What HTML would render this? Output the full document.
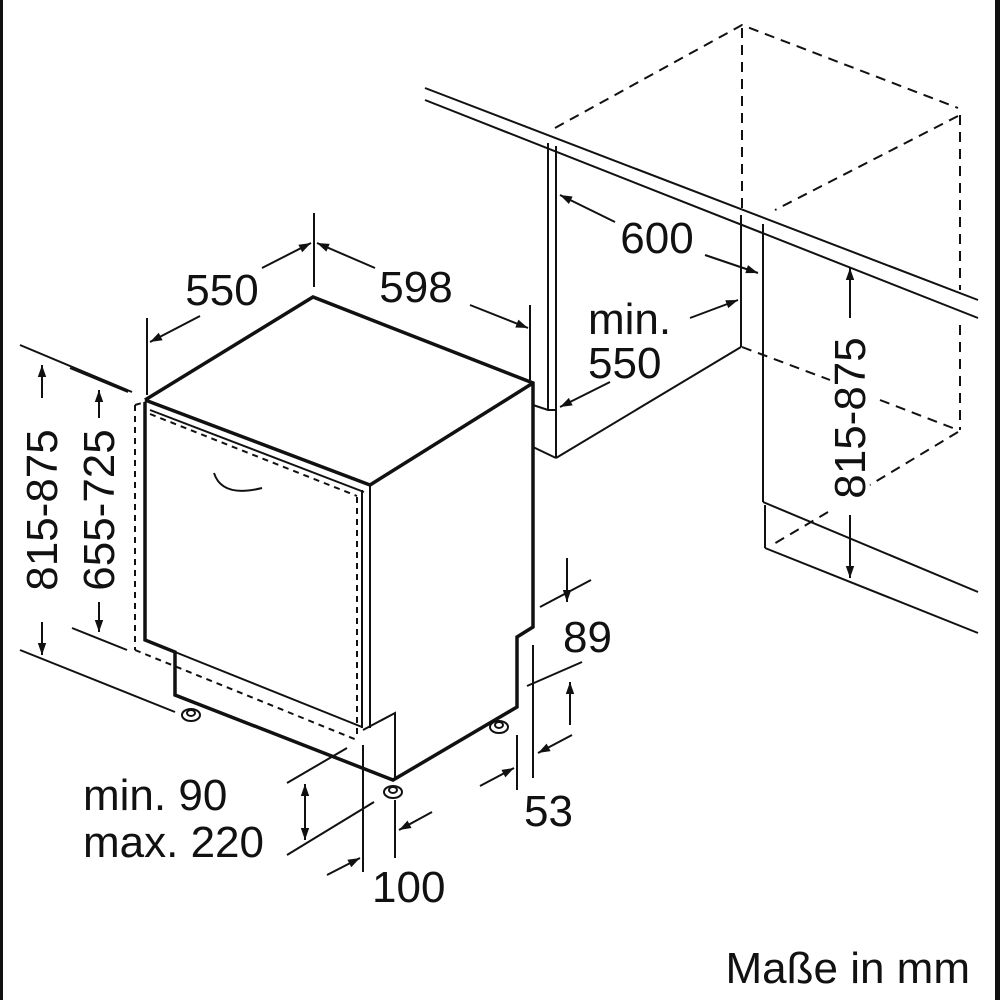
<!DOCTYPE html>
<html><head><meta charset="utf-8"><style>
html,body{margin:0;padding:0;background:#fff}
svg{display:block}
text{font-family:"Liberation Sans",sans-serif;font-size:44px;fill:#111}
</style></head><body>
<svg width="1000" height="1000" viewBox="0 0 1000 1000" xmlns="http://www.w3.org/2000/svg">
<defs>
<marker id="b" viewBox="0 0 10 10" refX="10" refY="5" markerWidth="18" markerHeight="12" markerUnits="userSpaceOnUse" orient="auto-start-reverse"><path d="M0,1.5 L10,5 L0,8.5 Z" fill="#111"/></marker>
</defs>
<rect x="0" y="0" width="3" height="1000" fill="#111"/>
<rect x="995" y="0" width="5" height="1000" fill="#111"/>
<g fill="none" stroke="#111" stroke-width="2">
<line x1="425" y1="88" x2="978" y2="300"/>
<line x1="425" y1="100" x2="978" y2="318"/>
<line x1="548" y1="143" x2="548" y2="410"/>
<line x1="556" y1="146" x2="556" y2="458"/>
<polyline points="533,405 548,410 556,410"/>
<line x1="533" y1="447" x2="556" y2="458"/>
<line x1="556" y1="458" x2="741" y2="347"/>
<line x1="741" y1="215" x2="741" y2="347"/>
<line x1="763" y1="224" x2="763" y2="502"/>
<line x1="763" y1="502" x2="978" y2="592"/>
<line x1="765" y1="505" x2="765" y2="548"/>
<line x1="765" y1="548" x2="978" y2="633"/>
</g>
<g fill="none" stroke="#111" stroke-width="2" stroke-dasharray="10,7">
<polyline points="555,128 742,25 958,108"/>
<line x1="742" y1="28" x2="742" y2="212"/>
<line x1="960" y1="115" x2="960" y2="290"/>
<line x1="960" y1="325" x2="960" y2="430"/>
<line x1="958" y1="116" x2="775" y2="210"/>
<line x1="742" y1="347" x2="830" y2="380"/>
<line x1="880" y1="400" x2="958" y2="430"/>
<line x1="958" y1="432" x2="870" y2="485"/>
<line x1="828" y1="512" x2="772" y2="545"/>
</g>
<g fill="none" stroke="#111" stroke-width="3.5" stroke-linejoin="miter">
<polyline points="145,402 145,640 175,652 175,695 393,780 517,707 517,637 533,627 533,383 313,297 145,400"/>
<line x1="145" y1="400" x2="370" y2="485"/>
<line x1="370" y1="485" x2="533" y2="383"/>
</g>
<g fill="none" stroke="#111" stroke-width="2">
<line x1="150" y1="410" x2="364" y2="492"/>
<line x1="175" y1="652" x2="362" y2="727"/>
<line x1="362" y1="490" x2="362" y2="728"/>
<line x1="370" y1="485" x2="370" y2="728"/>
<polyline points="363,730 395,713 395,780"/>
<path d="M214,473 Q222,498 262,488"/>
</g>
<g fill="none" stroke="#111" stroke-width="2" stroke-dasharray="6,5">
<line x1="135" y1="405" x2="135" y2="650"/>
<line x1="135" y1="650" x2="357" y2="740"/>
<line x1="357" y1="497" x2="357" y2="738"/>
<line x1="150" y1="414" x2="357" y2="496"/>
<line x1="135" y1="405" x2="145" y2="402"/>
</g>
<g fill="#fff" stroke="#111" stroke-width="2">
<ellipse cx="191" cy="715" rx="9" ry="6"/><ellipse cx="191" cy="713" rx="4" ry="3"/>
<ellipse cx="393" cy="792" rx="9" ry="6"/><ellipse cx="393" cy="790" rx="4" ry="3"/>
<ellipse cx="499" cy="727" rx="9" ry="6"/><ellipse cx="499" cy="725" rx="4" ry="3"/>
</g>
<g fill="none" stroke="#111" stroke-width="2">
<line x1="147" y1="318" x2="147" y2="395"/>
<line x1="314" y1="213" x2="314" y2="287"/>
<line x1="530" y1="305" x2="530" y2="380"/>
<line x1="150" y1="342" x2="200" y2="316" marker-start="url(#b)"/>
<line x1="262" y1="268" x2="311" y2="243" marker-end="url(#b)"/>
<line x1="317" y1="243" x2="375" y2="268" marker-start="url(#b)"/>
<line x1="470" y1="305" x2="528" y2="328" marker-end="url(#b)"/>
<line x1="20" y1="345" x2="132" y2="392"/>
<line x1="20" y1="650" x2="175" y2="712"/>
<line x1="42" y1="398" x2="42" y2="365" marker-end="url(#b)"/>
<line x1="42" y1="622" x2="42" y2="655" marker-end="url(#b)"/>
<line x1="70" y1="368" x2="128" y2="392"/>
<line x1="72" y1="628" x2="127" y2="650"/>
<line x1="99" y1="418" x2="99" y2="390" marker-end="url(#b)"/>
<line x1="99" y1="602" x2="99" y2="632" marker-end="url(#b)"/>
<line x1="615" y1="222" x2="560" y2="195" marker-end="url(#b)"/>
<line x1="705" y1="255" x2="758" y2="273" marker-end="url(#b)"/>
<line x1="690" y1="318" x2="738" y2="300" marker-end="url(#b)"/>
<line x1="610" y1="382" x2="560" y2="407" marker-end="url(#b)"/>
<line x1="850" y1="318" x2="850" y2="268" marker-end="url(#b)"/>
<line x1="850" y1="515" x2="850" y2="578" marker-end="url(#b)"/>
<line x1="567" y1="558" x2="567" y2="602" marker-end="url(#b)"/>
<line x1="540" y1="607" x2="591" y2="580"/>
<line x1="527" y1="686" x2="582" y2="662"/>
<line x1="570" y1="725" x2="570" y2="682" marker-end="url(#b)"/>
<line x1="517" y1="735" x2="517" y2="790"/>
<line x1="533" y1="645" x2="533" y2="778"/>
<line x1="480" y1="786" x2="514" y2="768" marker-end="url(#b)"/>
<line x1="572" y1="735" x2="538" y2="753" marker-end="url(#b)"/>
<line x1="287" y1="783" x2="347" y2="748"/>
<line x1="287" y1="855" x2="374" y2="802"/>
<line x1="305" y1="812" x2="305" y2="784" marker-end="url(#b)"/>
<line x1="305" y1="812" x2="305" y2="840" marker-end="url(#b)"/>
<line x1="363" y1="745" x2="363" y2="872"/>
<line x1="395" y1="800" x2="395" y2="858"/>
<line x1="327" y1="875" x2="360" y2="858" marker-end="url(#b)"/>
<line x1="432" y1="812" x2="399" y2="830" marker-end="url(#b)"/>
</g>
<text x="222" y="305" text-anchor="middle">550</text>
<text x="416" y="302" text-anchor="middle">598</text>
<text x="657" y="253" text-anchor="middle">600</text>
<text x="588" y="334">min.</text>
<text x="588" y="378">550</text>
<text transform="translate(57,510) rotate(-90)" text-anchor="middle">815-875</text>
<text transform="translate(114,510) rotate(-90)" text-anchor="middle">655-725</text>
<text transform="translate(865,418) rotate(-90)" text-anchor="middle">815-875</text>
<text x="563" y="652">89</text>
<text x="524" y="826">53</text>
<text x="83" y="810">min. 90</text>
<text x="83" y="857">max. 220</text>
<text x="372" y="902">100</text>
<text x="970" y="983" text-anchor="end">Maße in mm</text>
</svg>
</body></html>
